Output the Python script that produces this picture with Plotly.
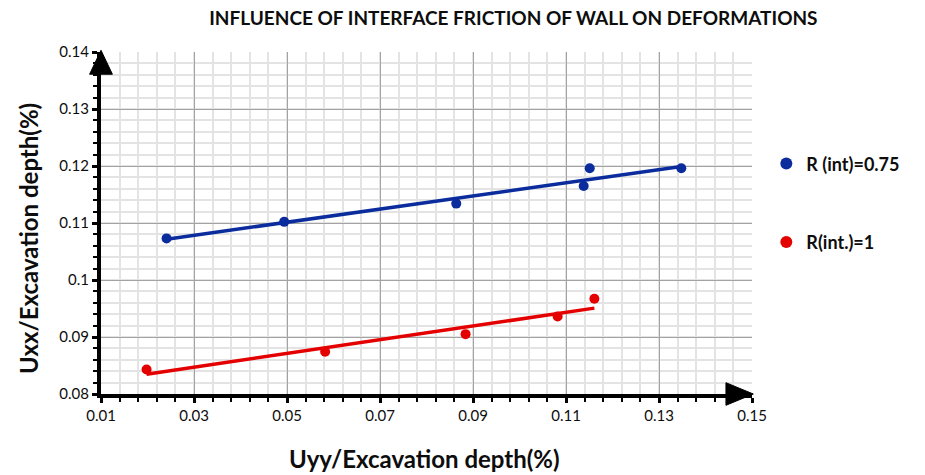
import numpy as np
import plotly.graph_objects as go

# Data
x_r075 = [0.0241, 0.0494, 0.0864, 0.1138, 0.1151, 0.1348]
y_r075 = [0.1073, 0.1102, 0.1134, 0.1165, 0.1196, 0.1196]
x_r1 = [0.0198, 0.0582, 0.0884, 0.1082, 0.1161]
y_r1 = [0.0843, 0.0874, 0.0905, 0.0936, 0.0967]

series_names = ["R (int)=0.75", "R(int.)=1"]
series_colors = ["#0a2c9c", "#e50000"]

x_ticks = [0.01, 0.03, 0.05, 0.07, 0.09, 0.11, 0.13, 0.15]
y_ticks = [0.08, 0.09, 0.1, 0.11, 0.12, 0.13, 0.14]
y_tick_text = ["0.08", "0.09", "0.1", "0.11", "0.12", "0.13", "0.14"]

FONT = "Lato, Liberation Sans, sans-serif"

fig = go.Figure()
for i, (xs, ys) in enumerate([(x_r075, y_r075), (x_r1, y_r1)]):
    c = series_colors[i]
    xs_a = np.array(xs)
    ys_a = np.array(ys)
    m, b = np.polyfit(xs_a, ys_a, 1)
    xl = np.array([xs_a.min(), xs_a.max()])
    fig.add_trace(go.Scatter(x=xl, y=m * xl + b, mode="lines",
                             line=dict(color=c, width=3.5),
                             showlegend=False, hoverinfo="skip"))
    fig.add_trace(go.Scatter(x=xs, y=ys, mode="markers",
                             name=f"<b>{series_names[i]}</b>",
                             marker=dict(color=c, size=10),
                             legendgroup=f"g{i}"))

axis_common = dict(
    showline=True, linewidth=4, linecolor="black",
    showgrid=True, gridcolor="#a3a3a3", gridwidth=1,
    ticks="outside", ticklen=5, tickwidth=3, tickcolor="black",
    zeroline=False, mirror=False, automargin=False,
    tickfont=dict(family=FONT, size=15, color="#0d0d0d"),
)

fig.update_layout(
    width=925, height=475,
    margin=dict(l=101, r=173, t=52, b=81),
    paper_bgcolor="white", plot_bgcolor="white",
    title=dict(text="<b>INFLUENCE OF INTERFACE FRICTION OF WALL ON DEFORMATIONS</b>",
               x=0.555, xanchor="center", y=0.962, yanchor="middle",
               font=dict(family=FONT, size=19, color="#0d0d0d")),
    xaxis=dict(range=[0.01, 0.15], tickvals=x_ticks,
               ticktext=[f"{v:.2f}" for v in x_ticks],
               minor=dict(dtick=0.004, tick0=0.01, showgrid=True, gridcolor="#e3e3e3",
                          gridwidth=2, ticks="outside", ticklen=4, tickwidth=2,
                          tickcolor="black"),
               **axis_common),
    yaxis=dict(range=[0.08, 0.14], tickvals=y_ticks, ticktext=y_tick_text,
               minor=dict(dtick=0.002, tick0=0.08, showgrid=True, gridcolor="#e3e3e3",
                          gridwidth=2, ticks="outside", ticklen=4, tickwidth=2,
                          tickcolor="black"),
               **axis_common),
    legend=dict(x=1.022, xanchor="left", y=0.727, yanchor="top",
                font=dict(family=FONT, size=18, color="#0d0d0d"),
                tracegroupgap=52, itemsizing="constant",
                bgcolor="rgba(0,0,0,0)"),
    showlegend=True,
)

fig.add_annotation(text="<b>Uxx/Excavation depth(%)</b>", xref="paper", yref="paper",
                   x=0, y=0.453, xshift=-73, textangle=-90, showarrow=False,
                   xanchor="center", yanchor="middle",
                   font=dict(family=FONT, size=24, color="#0d0d0d"))
fig.add_annotation(text="<b>Uyy/Excavation depth(%)</b>", xref="paper", yref="paper",
                   x=0.497, y=0, yshift=-64, showarrow=False,
                   xanchor="center", yanchor="middle",
                   font=dict(family=FONT, size=24, color="#0d0d0d"))

# Arrowheads at the ends of the axes
fig.add_shape(type="path", xref="paper", yref="paper",
              path="M -0.0175 0.935 L 0.0175 0.935 L 0 1.005 Z",
              fillcolor="black", line=dict(color="black", width=1))
fig.add_shape(type="path", xref="paper", yref="paper",
              path="M 0.96 -0.033 L 0.96 0.033 L 1.002 0 Z",
              fillcolor="black", line=dict(color="black", width=1))

fig.write_html("out.html")
